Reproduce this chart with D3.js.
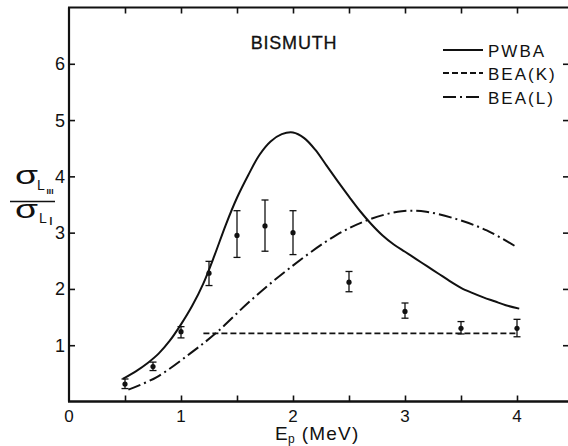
<!DOCTYPE html>
<html>
<head>
<meta charset="utf-8">
<script src="https://cdn.jsdelivr.net/npm/d3@7"></script>
<style>
  html, body { margin: 0; padding: 0; background: #fff; }
  svg { display: block; font-family: "Liberation Sans", Arial, Helvetica, sans-serif; }
</style>
</head>
<body>
<svg id="chart" width="568" height="446"></svg>
<script>
// ---------- data ----------
const xTicks = [0, 1, 2, 3, 4];
const xMinorTicks = [0.5, 1, 1.5, 2, 2.5, 3, 3.5, 4];
const yTicks = [1, 2, 3, 4, 5, 6];

const pwbaX = [0.48, 0.60, 0.70, 0.80, 0.90, 1.00, 1.10, 1.20, 1.30, 1.40, 1.50, 1.60, 1.70, 1.80, 1.90, 2.00, 2.10, 2.20, 2.30, 2.40, 2.50, 2.60, 2.70, 2.80, 2.90, 3.00, 3.10, 3.20, 3.30, 3.40, 3.50, 3.60, 3.70, 3.80, 3.90, 4.02];
const pwbaY = [0.40, 0.54, 0.68, 0.85, 1.08, 1.37, 1.70, 2.10, 2.60, 3.14, 3.62, 4.02, 4.38, 4.62, 4.75, 4.78, 4.68, 4.47, 4.19, 3.91, 3.64, 3.38, 3.15, 2.95, 2.79, 2.66, 2.53, 2.40, 2.27, 2.14, 2.02, 1.93, 1.85, 1.78, 1.71, 1.65];

const beaKX = [1.20, 4.00];
const beaKY = [1.21, 1.21];

const beaLX = [0.53, 0.78, 1.08, 1.32, 1.62, 1.97, 2.39, 2.69, 2.97, 3.19, 3.46, 3.73, 4.00];
const beaLY = [0.21, 0.43, 0.85, 1.23, 1.79, 2.37, 2.96, 3.24, 3.38, 3.37, 3.24, 3.04, 2.74];

const ptX   = [0.5, 0.75, 1.0, 1.25, 1.5, 1.75, 2.0, 2.5, 3.0, 3.5, 4.0];
const ptY   = [0.31, 0.62, 1.24, 2.28, 2.95, 3.12, 3.00, 2.12, 1.60, 1.30, 1.30];
const errLo = [0.23, 0.55, 1.13, 2.06, 2.56, 2.67, 2.61, 1.95, 1.48, 1.20, 1.15];
const errHi = [0.40, 0.70, 1.33, 2.49, 3.39, 3.58, 3.39, 2.31, 1.75, 1.42, 1.46];

const legendLabels = ["PWBA", "BEA(K)", "BEA(L)"];
const titleText = "BISMUTH";

// ---------- layout ----------
const svg = d3.select("#chart");
const pL = 69, pR = 569, pT = 7.5, pB = 401.5;
const x = d3.scaleLinear().domain([0, (pR - pL) / 112]).range([pL, pR]);
const y = d3.scaleLinear().domain([0, 7]).range([pB, pT]);

const ink = "#111";

// frame lines (left, bottom, top; right line falls at the page edge)
svg.append("line").attr("x1", pL).attr("x2", pL).attr("y1", pT).attr("y2", pB)
  .attr("stroke", ink).attr("stroke-width", 2.2);
svg.append("line").attr("x1", pL - 1).attr("x2", 568).attr("y1", pB).attr("y2", pB)
  .attr("stroke", ink).attr("stroke-width", 2.4);
svg.append("line").attr("x1", pL - 1).attr("x2", 568).attr("y1", pT).attr("y2", pT)
  .attr("stroke", ink).attr("stroke-width", 2);
svg.append("line").attr("x1", pR).attr("x2", pR).attr("y1", pT).attr("y2", pB)
  .attr("stroke", ink).attr("stroke-width", 2);

// axes via d3 axis generators (inward ticks)
const gxB = svg.append("g").attr("transform", `translate(0,${pB})`)
  .call(d3.axisTop(x).tickValues(xMinorTicks).tickSize(6).tickFormat(""));
const gxT = svg.append("g").attr("transform", `translate(0,${pT})`)
  .call(d3.axisBottom(x).tickValues(xMinorTicks).tickSize(6).tickFormat(""));
const gyL = svg.append("g").attr("transform", `translate(${pL},0)`)
  .call(d3.axisRight(y).tickValues(yTicks).tickSize(6).tickFormat(""));
const gyR = svg.append("g").attr("transform", `translate(${pR},0)`)
  .call(d3.axisLeft(y).tickValues(yTicks).tickSize(6).tickFormat(""));
[gxB, gxT, gyL, gyR].forEach(g => {
  g.select(".domain").remove();
  g.selectAll("line").attr("stroke", ink).attr("stroke-width", 1.6);
});

// tick labels
svg.append("g").selectAll("text").data(xTicks).join("text")
  .attr("x", d => x(d)).attr("y", 422)
  .attr("text-anchor", "middle").attr("font-size", 17).attr("fill", ink)
  .text(d => d);
svg.append("g").selectAll("text").data(yTicks).join("text")
  .attr("x", 65).attr("y", d => y(d) + 6.5)
  .attr("text-anchor", "end").attr("font-size", 18).attr("fill", ink)
  .text(d => d);

// x-axis title
const xt = svg.append("text").attr("x", 275).attr("y", 440).attr("font-size", 19)
  .attr("fill", ink).attr("letter-spacing", 1.2);
xt.append("tspan").text("E");
xt.append("tspan").attr("font-size", 12).attr("dy", 3).attr("dx", -1).text("p");
xt.append("tspan").attr("dy", -3).attr("dx", 6).text("(MeV)");

// y-axis title: sigma_{L_III} / sigma_{L_I}
svg.append("text").attr("x", 15).attr("y", 184).attr("font-size", 25)
  .attr("textLength", 23).attr("lengthAdjust", "spacingAndGlyphs")
  .attr("fill", ink).text("σ");
svg.append("text").attr("x", 37).attr("y", 190).attr("font-size", 14).attr("fill", ink).text("L");
svg.append("text").attr("x", 46.5).attr("y", 194).attr("font-size", 8).attr("font-weight", "bold")
  .attr("textLength", 7).attr("lengthAdjust", "spacingAndGlyphs").attr("fill", ink).text("III");
svg.append("line").attr("x1", 10).attr("x2", 55).attr("y1", 201.5).attr("y2", 201.5)
  .attr("stroke", ink).attr("stroke-width", 1.6);
svg.append("text").attr("x", 15).attr("y", 218).attr("font-size", 25)
  .attr("textLength", 23).attr("lengthAdjust", "spacingAndGlyphs")
  .attr("fill", ink).text("σ");
svg.append("text").attr("x", 39).attr("y", 223).attr("font-size", 14).attr("fill", ink).text("L");
svg.append("text").attr("x", 49.5).attr("y", 225).attr("font-size", 10).attr("font-weight", "bold")
  .attr("fill", ink).text("I");

// title
svg.append("text").attr("x", 294).attr("y", 49).attr("text-anchor", "middle")
  .attr("font-size", 18).attr("letter-spacing", 0.8).attr("fill", ink)
  .attr("stroke", ink).attr("stroke-width", 0.3).text(titleText);

// curves
const line = d3.line().x(d => x(d[0])).y(d => y(d[1])).curve(d3.curveCatmullRom.alpha(0.5));
svg.append("path").datum(d3.zip(pwbaX, pwbaY)).attr("d", line)
  .attr("fill", "none").attr("stroke", ink).attr("stroke-width", 2);
svg.append("path").datum(d3.zip(beaKX, beaKY)).attr("d", d3.line().x(d => x(d[0])).y(d => y(d[1])))
  .attr("fill", "none").attr("stroke", ink).attr("stroke-width", 1.8).attr("stroke-dasharray", "6,3");
svg.append("path").datum(d3.zip(beaLX, beaLY)).attr("d", line)
  .attr("fill", "none").attr("stroke", ink).attr("stroke-width", 2).attr("stroke-dasharray", "13,4,2,4");

// data points with error bars
const pts = d3.range(ptX.length).map(i => ({ x: ptX[i], y: ptY[i], lo: errLo[i], hi: errHi[i] }));
const gp = svg.append("g");
gp.selectAll("line.v").data(pts).join("line").attr("class", "v")
  .attr("x1", d => x(d.x)).attr("x2", d => x(d.x)).attr("y1", d => y(d.lo)).attr("y2", d => y(d.hi))
  .attr("stroke", ink).attr("stroke-width", 1.3);
gp.selectAll("line.t").data(pts).join("line").attr("class", "t")
  .attr("x1", d => x(d.x) - 3.5).attr("x2", d => x(d.x) + 3.5).attr("y1", d => y(d.hi)).attr("y2", d => y(d.hi))
  .attr("stroke", ink).attr("stroke-width", 1.3);
gp.selectAll("line.b").data(pts).join("line").attr("class", "b")
  .attr("x1", d => x(d.x) - 3.5).attr("x2", d => x(d.x) + 3.5).attr("y1", d => y(d.lo)).attr("y2", d => y(d.lo))
  .attr("stroke", ink).attr("stroke-width", 1.3);
gp.selectAll("circle").data(pts).join("circle")
  .attr("cx", d => x(d.x)).attr("cy", d => y(d.y)).attr("r", 2.6).attr("fill", ink);

// legend
const legDash = [null, "6,3", "13,4,2,4"];
const legY = [50, 73, 97];
const lg = svg.append("g");
legendLabels.forEach((lab, i) => {
  lg.append("line").attr("x1", 443).attr("x2", 483).attr("y1", legY[i]).attr("y2", legY[i])
    .attr("stroke", ink).attr("stroke-width", 1.8).attr("stroke-dasharray", legDash[i]);
  lg.append("text").attr("x", 488).attr("y", legY[i] + 6.5).attr("font-size", 17)
    .attr("letter-spacing", 2).attr("fill", ink).text(lab);
});
</script>
</body>
</html>
